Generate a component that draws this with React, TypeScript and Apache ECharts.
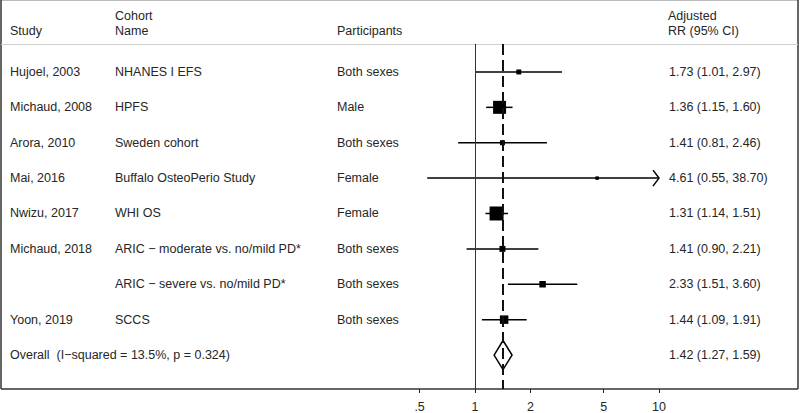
import React, { useEffect, useRef } from 'react';
import * as echarts from 'echarts';

// ---- Data ----
const studies = ['Hujoel, 2003', 'Michaud, 2008', 'Arora, 2010', 'Mai, 2016', 'Nwizu, 2017', 'Michaud, 2018', '', 'Yoon, 2019'];
const cohorts = ['NHANES I EFS', 'HPFS', 'Sweden cohort', 'Buffalo OsteoPerio Study', 'WHI OS', 'ARIC \u2212 moderate vs. no/mild PD*', 'ARIC \u2212 severe vs. no/mild PD*', 'SCCS'];
const participants = ['Both sexes', 'Male', 'Both sexes', 'Female', 'Female', 'Both sexes', 'Both sexes', 'Both sexes'];
const rr = [1.73, 1.36, 1.41, 4.61, 1.31, 1.41, 2.33, 1.44];
const lower = [1.01, 1.15, 0.81, 0.55, 1.14, 0.9, 1.51, 1.09];
const upper = [2.97, 1.6, 2.46, 38.7, 1.51, 2.21, 3.6, 1.91];
// estimated relative study weights (%)
const weights = [4.3, 29.3, 4.3, 2.1, 34.0, 6.2, 7.3, 12.5];

const overallLabel = 'Overall \u00a0(I\u2212squared = 13.5%, p = 0.324)';
const overallRR = [1.42];
const overallLower = [1.27];
const overallUpper = [1.59];

const xTickValues = [0.5, 1, 2, 5, 10];
const xTickLabels = ['.5', '1', '2', '5', '10'];
const headerStudy = ['Study'];
const headerCohort = ['Cohort', 'Name'];
const headerParticipants = ['Participants'];
const headerRR = ['Adjusted', 'RR (95% CI)'];

const X_MIN = 0.5;
const X_MAX = 10;
const FONT = '"Liberation Sans", Arial, Helvetica, sans-serif';
const FS = 12.5;
const TXT = '#262626';

const COL_STUDY = 10;
const COL_COHORT = 115;
const COL_PART = 337;
const COL_RR = 669;

const fmt = (v: number) => v.toFixed(2);

function txt(text: string, x: number, y: number) {
  return {
    type: 'text',
    style: { text, x, y, fill: TXT, fontSize: FS, fontFamily: FONT, verticalAlign: 'middle', align: 'left' },
  };
}

export default function App() {
  const ref = useRef<HTMLDivElement>(null);

  useEffect(() => {
    document.body.style.margin = '0';
    const chart = echarts.init(ref.current!, null, { renderer: 'svg' });

    const rowData = rr.map((v, i) => [v, lower[i], upper[i], i, weights[i]]);
    const overallData = overallRR.map((v, i) => [v, overallLower[i], overallUpper[i], rr.length + i]);

    const option: any = {
      animation: false,
      backgroundColor: '#ffffff',
      grid: { left: 419.6, width: 239.4, top: 44, bottom: 24, containLabel: false },
      xAxis: {
        type: 'log',
        logBase: 10,
        min: X_MIN,
        max: X_MAX,
        position: 'bottom',
        axisLine: { show: false, onZero: false },
        splitLine: { show: false },
        axisTick: { show: true, length: 4, lineStyle: { color: '#222', width: 1 }, customValues: xTickValues },
        axisLabel: {
          show: true,
          customValues: xTickValues,
          margin: 11,
          color: TXT,
          fontSize: FS,
          fontFamily: FONT,
          formatter: (v: number) => {
            const idx = xTickValues.findIndex((t) => Math.abs(t - v) < 1e-6);
            return idx >= 0 ? xTickLabels[idx] : '';
          },
        },
      },
      yAxis: {
        type: 'value',
        inverse: true,
        min: -0.79,
        max: 8.96,
        show: false,
      },
      graphic: [
        // frame
        { type: 'line', shape: { x1: 1, y1: 0.5, x2: 798, y2: 0.5 }, style: { stroke: '#bbb', lineWidth: 1 } },
        { type: 'line', shape: { x1: 1, y1: 0, x2: 1, y2: 389 }, style: { stroke: '#333', lineWidth: 1.5 } },
        { type: 'line', shape: { x1: 798, y1: 0, x2: 798, y2: 389 }, style: { stroke: '#333', lineWidth: 1.5 } },
        { type: 'line', shape: { x1: 1, y1: 389, x2: 798, y2: 389 }, style: { stroke: '#333', lineWidth: 1.5 } },
        // header separator
        { type: 'line', shape: { x1: 1, y1: 44.5, x2: 798, y2: 44.5 }, style: { stroke: '#cfcfcf', lineWidth: 1 } },
        // headers
        { type: 'text', x: COL_STUDY, y: 31, style: { text: headerStudy[0], fill: TXT, fontSize: FS, fontFamily: FONT, verticalAlign: 'middle' } },
        { type: 'text', x: COL_COHORT, y: 16, style: { text: headerCohort[0], fill: TXT, fontSize: FS, fontFamily: FONT, verticalAlign: 'middle' } },
        { type: 'text', x: COL_COHORT, y: 31, style: { text: headerCohort[1], fill: TXT, fontSize: FS, fontFamily: FONT, verticalAlign: 'middle' } },
        { type: 'text', x: COL_PART, y: 31, style: { text: headerParticipants[0], fill: TXT, fontSize: FS, fontFamily: FONT, verticalAlign: 'middle' } },
        { type: 'text', x: COL_RR - 1, y: 16, style: { text: headerRR[0], fill: TXT, fontSize: FS, fontFamily: FONT, verticalAlign: 'middle' } },
        { type: 'text', x: COL_RR - 1, y: 31, style: { text: headerRR[1], fill: TXT, fontSize: FS, fontFamily: FONT, verticalAlign: 'middle' } },
      ],
      series: [
        {
          type: 'custom',
          name: 'studies',
          clip: false,
          encode: { x: [0, 1, 2], y: 3 },
          data: rowData,
          markLine: {
            silent: true,
            symbol: 'none',
            label: { show: false },
            data: [
              { xAxis: 1, lineStyle: { type: 'solid', color: '#333', width: 1 } },
              { xAxis: overallRR[0], lineStyle: { type: [11, 5], color: '#111', width: 2 } },
            ],
          },
          renderItem: (params: any, api: any) => {
            const i = params.dataIndex;
            const est = api.value(0);
            const lo = api.value(1);
            const hi = api.value(2);
            const row = api.value(3);
            const w = api.value(4);
            const hiC = Math.min(hi, X_MAX);
            const loC = Math.max(lo, X_MIN);
            const pe = api.coord([est, row]);
            const pl = api.coord([loC, row]);
            const ph = api.coord([hiC, row]);
            const y = pe[1];
            const s = 2.4 * Math.sqrt(w);
            const children: any[] = [
              { type: 'line', shape: { x1: pl[0], y1: y, x2: ph[0], y2: y }, style: { stroke: '#000', lineWidth: 1.5 } },
              { type: 'rect', shape: { x: pe[0] - s / 2, y: y - s / 2, width: s, height: s }, style: { fill: '#000' } },
            ];
            if (hi > X_MAX) {
              children.push({
                type: 'polyline',
                shape: { points: [[ph[0] - 6, y - 8], [ph[0], y], [ph[0] - 6, y + 8]] },
                style: { stroke: '#000', lineWidth: 1.5, fill: 'none' },
              });
            }
            children.push(txt(studies[i], COL_STUDY, y));
            children.push(txt(cohorts[i], COL_COHORT, y));
            children.push(txt(participants[i], COL_PART, y));
            children.push(txt(`${fmt(rr[i])} (${fmt(lower[i])}, ${fmt(upper[i])})`, COL_RR, y));
            return { type: 'group', children };
          },
        },
        {
          type: 'custom',
          name: 'overall',
          clip: false,
          encode: { x: [0, 1, 2], y: 3 },
          data: overallData,
          renderItem: (params: any, api: any) => {
            const i = params.dataIndex;
            const row = api.value(3);
            const pe = api.coord([api.value(0), row]);
            const pl = api.coord([api.value(1), row]);
            const ph = api.coord([api.value(2), row]);
            const y = pe[1];
            const h = 14.5;
            return {
              type: 'group',
              children: [
                {
                  type: 'polygon',
                  shape: { points: [[pl[0], y], [pe[0], y - h], [ph[0], y], [pe[0], y + h]] },
                  style: { stroke: '#000', lineWidth: 1.5, fill: 'none' },
                },
                txt(overallLabel, COL_STUDY, y),
                txt(`${fmt(overallRR[i])} (${fmt(overallLower[i])}, ${fmt(overallUpper[i])})`, COL_RR, y),
              ],
            };
          },
        },
      ],
    };

    chart.setOption(option);
    return () => chart.dispose();
  }, []);

  return <div ref={ref} style={{ width: 800, height: 413, position: 'absolute', left: 0, top: 0 }} />;
}
